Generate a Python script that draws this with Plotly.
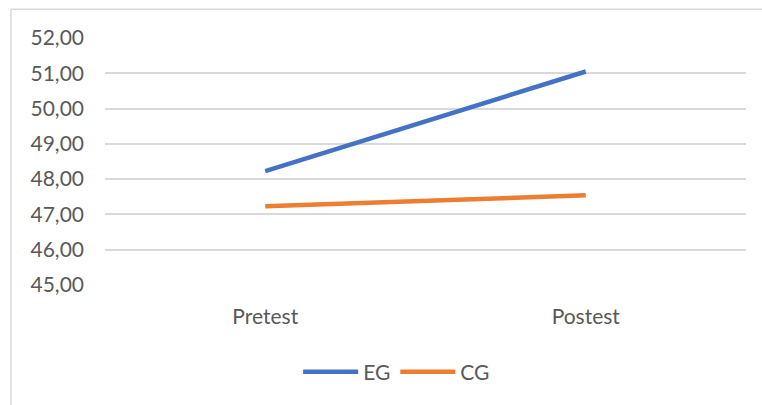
import plotly.graph_objects as go

categories = ["Pretest", "Postest"]
eg_values = [48.23, 51.05]
cg_values = [47.23, 47.54]
series_names = ["EG", "CG"]
y_ticks = [45, 46, 47, 48, 49, 50, 51, 52]
y_tick_labels = ["45,00", "46,00", "47,00", "48,00", "49,00", "50,00", "51,00", "52,00"]

W, H = 762, 405
ml, mr, mt = 105, 16, 38
ph = 287 - 38
mb = H - mt - ph
pw = W - ml - mr

font_family = "Lato"
gray_text = "#595959"
grid = "#D9D9D9"

fig = go.Figure()
fig.add_trace(go.Scatter(x=categories, y=eg_values, name=series_names[0], mode="lines",
                         line=dict(color="#4472C4", width=4.5)))
fig.add_trace(go.Scatter(x=categories, y=cg_values, name=series_names[1], mode="lines",
                         line=dict(color="#ED7D31", width=4.5)))

# chart border (left and top edges visible)
bx = (11 - ml) / pw
by = 1 + (mt - 9) / ph
fig.add_shape(type="line", xref="paper", yref="paper", x0=bx, x1=bx, y0=by, y1=-5,
              line=dict(color=grid, width=1.5))
fig.add_shape(type="line", xref="paper", yref="paper", x0=bx, x1=5, y0=by, y1=by,
              line=dict(color=grid, width=1.5))

fig.update_layout(
    width=W, height=H,
    margin=dict(l=ml, r=mr, t=mt, b=mb),
    paper_bgcolor="white", plot_bgcolor="white",
    font=dict(family=font_family, size=21, color=gray_text),
    showlegend=True,
    legend=dict(orientation="h", x=0.455, xanchor="center", y=-0.353, yanchor="middle",
                itemwidth=55, font=dict(size=21, color=gray_text), bgcolor="rgba(0,0,0,0)"),
    xaxis=dict(type="category", range=[-0.5, 1.5], showgrid=False, showline=False,
               zeroline=False, ticks="", ticklabelstandoff=17,
               tickfont=dict(size=21, color=gray_text)),
    yaxis=dict(range=[45, 52], tickvals=y_ticks, ticktext=y_tick_labels,
               showgrid=True, gridcolor=grid, gridwidth=1.5, zeroline=False,
               showline=False, ticks="", ticklabelstandoff=20,
               tickfont=dict(size=21, color=gray_text)),
)

page_fix = (
    "var s=document.body.style;s.margin='0';s.padding='0';s.overflow='hidden';"
    "var h=document.documentElement.style;h.margin='0';h.overflow='hidden';"
)

fig.write_html("out.html", config={"displayModeBar": False}, post_script=page_fix)
